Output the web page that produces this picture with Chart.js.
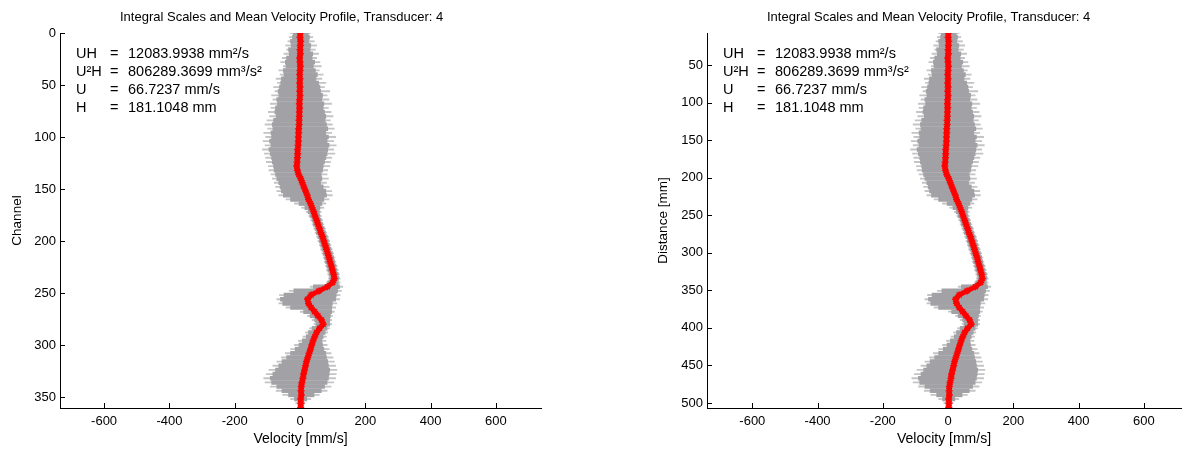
<!DOCTYPE html>
<html lang="en">
<head>
  <meta charset="UTF-8">
  <title>Integral Scales and Mean Velocity Profile</title>
  <script src="https://cdn.jsdelivr.net/npm/chart.js"></script>
  <style>
    body { margin: 0; background: #fff; width: 1182px; height: 450px; overflow: hidden; position: relative; }
    .box { position: absolute; top: 0; height: 450px; }
  </style>
</head>
<body>

  <div class="box" style="left:0;width:560px"><canvas id="chartChannel"></canvas></div>
  <div class="box" style="left:647px;width:535px"><canvas id="chartDistance"></canvas></div>

  <script>
    const plotTitle = 'Integral Scales and Mean Velocity Profile, Transducer: 4';
    const statNames = ['UH', 'U\u00b2H', 'U', 'H'];
    const statValues = ['12083.9938 mm\u00b2/s', '806289.3699 mm\u00b3/s\u00b2', '66.7237 mm/s', '181.1048 mm'];

    const velocityTicks = [-600, -400, -200, 0, 200, 400, 600];
    const channelTicks = [0, 50, 100, 150, 200, 250, 300, 350];
    const distanceTicks = [50, 100, 150, 200, 250, 300, 350, 400, 450, 500];

    // distance of channel 0 and size of one channel [mm]
    const distOffset = 7.5;
    const cellSize = 1.384;

    const channels = [
      0, 4, 8, 12, 16, 20, 24, 28, 32, 36,
      40, 44, 48, 52, 56, 60, 64, 68, 72, 76,
      80, 84, 88, 92, 96, 100, 104, 108, 112, 116,
      120, 124, 128, 132, 136, 140, 144, 148, 152, 156,
      160, 164, 168, 172, 176, 180, 184, 188, 192, 196,
      200, 204, 208, 212, 216, 220, 224, 228, 232, 236,
      240, 244, 248, 252, 256, 260, 264, 268, 272, 276,
      280, 284, 288, 292, 296, 300, 304, 308, 312, 316,
      320, 324, 328, 332, 336, 340, 344, 348, 352, 356, 360
    ];

    // mean velocity [mm/s]
    const meanVel = [
      1, 0, 2, 1, 0, 1, -1, 0, 1, 0,
      -1, 0, -1, 0, -1, 0, -1, -2, -1, -2,
      -2, -3, -3, -4, -4, -5, -5, -6, -7, -7,
      -8, -9, -10, -8, -4, 2, 7, 12, 17, 22,
      26, 32, 37, 42, 46, 51, 55, 60, 64, 69,
      73, 77, 81, 85, 89, 92, 96, 99, 103, 105,
      100, 84, 58, 34, 23, 26, 34, 45, 55, 66,
      71, 60, 51, 45, 40, 36, 32, 28, 24, 20,
      17, 14, 11, 9, 6, 4, 3, 4, 2, 3, 2
    ];

    // spread of the samples (dense part)
    const darkLo = [
      -22, -24, -30, -28, -36, -34, -42, -46, -44, -52,
      -50, -58, -60, -64, -68, -66, -72, -70, -76, -78,
      -74, -82, -86, -84, -90, -88, -94, -90, -96, -92,
      -88, -86, -82, -80, -76, -72, -66, -62, -58, -52,
      -30, -4, 14, 24, 30, 36, 40, 45, 49, 54,
      58, 62, 66, 70, 74, 77, 81, 84, 88, 90,
      84, 40, -20, -50, -61, -54, -30, 10, 30, 44,
      48, 36, 25, 18, 6, -4, -16, -30, -42, -56,
      -66, -76, -84, -92, -88, -72, -56, -36, -18, -8, -5
    ];
    const darkHi = [
      26, 30, 28, 34, 32, 40, 38, 46, 42, 48,
      54, 50, 58, 62, 64, 70, 68, 74, 72, 76,
      80, 78, 82, 86, 80, 88, 84, 90, 86, 84,
      80, 76, 72, 70, 66, 68, 64, 72, 80, 82,
      74, 68, 62, 60, 62, 66, 70, 75, 79, 84,
      88, 92, 96, 100, 104, 107, 111, 114, 118, 120,
      118, 122, 116, 112, 110, 100, 98, 98, 94, 92,
      92, 84, 78, 72, 68, 70, 74, 80, 82, 86,
      88, 92, 90, 88, 84, 76, 66, 44, 22, 10, 6
    ];

    // spread of the samples (outliers)
    const lightLo = [
      -30, -34, -38, -45, -42, -50, -55, -60, -52, -66,
      -62, -74, -70, -82, -78, -88, -84, -92, -90, -98,
      -94, -102, -108, -100, -112, -106, -114, -108, -116, -110,
      -106, -104, -98, -96, -90, -86, -80, -76, -72, -66,
      -44, -18, 4, 18, 26, 32, 36, 41, 45, 50,
      54, 58, 62, 66, 70, 73, 77, 80, 84, 86,
      80, 30, -34, -64, -72, -66, -44, 0, 22, 36,
      42, 28, 16, 8, -6, -18, -30, -46, -58, -72,
      -84, -96, -104, -112, -108, -92, -74, -54, -30, -14, -8
    ];
    const lightHi = [
      34, 40, 45, 52, 48, 58, 52, 62, 66, 60,
      72, 68, 80, 76, 92, 84, 90, 98, 88, 96,
      102, 94, 100, 106, 98, 110, 104, 112, 104, 108,
      98, 94, 92, 86, 84, 88, 82, 90, 98, 100,
      90, 80, 74, 66, 66, 70, 74, 79, 83, 88,
      92, 96, 100, 104, 108, 111, 115, 118, 122, 124,
      124, 132, 128, 124, 122, 114, 110, 106, 100, 98,
      98, 92, 86, 82, 80, 84, 90, 96, 102, 106,
      110, 114, 112, 110, 104, 96, 84, 60, 34, 16, 9
    ];

    const fontFamily = '"Liberation Sans", Arial, Helvetica, sans-serif';

    // MATLAB style tick marks pointing into the plot
    const inwardTicks = {
      id: 'inwardTicks',
      beforeDatasetsDraw(chart) {
        const { ctx, chartArea: a, scales: { x, y } } = chart;
        ctx.save();
        ctx.strokeStyle = '#000';
        ctx.lineWidth = 1;
        ctx.beginPath();
        x.ticks.forEach(t => {
          const px = Math.round(x.getPixelForValue(t.value)) + 0.5;
          ctx.moveTo(px, a.bottom);
          ctx.lineTo(px, a.bottom - 5);
        });
        y.ticks.forEach(t => {
          const py = Math.round(y.getPixelForValue(t.value)) + 0.5;
          ctx.moveTo(a.left, py);
          ctx.lineTo(a.left + 5, py);
        });
        ctx.stroke();
        ctx.restore();
      }
    };

    // title and the integral scales text box
    const labelText = {
      id: 'labelText',
      afterDraw(chart) {
        const { ctx, chartArea: a } = chart;
        ctx.save();
        ctx.fillStyle = '#000';
        ctx.textBaseline = 'middle';
        ctx.textAlign = 'left';
        ctx.font = '13px ' + fontFamily;
        ctx.fillText(plotTitle, a.left + 60, 17);
        ctx.font = '14.5px ' + fontFamily;
        statNames.forEach((name, i) => {
          const yy = 54 + i * 18;
          ctx.fillText(name, a.left + 16, yy);
          ctx.fillText('=', a.left + 50, yy);
          ctx.fillText(statValues[i], a.left + 68, yy);
        });
        ctx.restore();
      }
    };

    function makeChart(id, toY, yTicks, yMin, yMax, xMin, xMax, yLabel, padRight, yTitlePad) {
      const lightData = channels.map((c, i) => ({ y: toY(c), x: [lightLo[i], lightHi[i]] }));
      const darkData = channels.map((c, i) => ({ y: toY(c), x: [darkLo[i], darkHi[i]] }));
      const meanData = channels.map((c, i) => ({ y: toY(c), x: meanVel[i] }));

      new Chart(document.getElementById(id), {
        type: 'bar',
        data: {
          datasets: [
            {
              type: 'line',
              data: meanData,
              borderColor: '#ff0000',
              borderWidth: 5,
              pointStyle: 'star',
              pointRadius: 3.5,
              pointBorderWidth: 1.5,
              pointBorderColor: '#ff0000',
              pointBackgroundColor: '#ff0000',
              tension: 0,
              order: 0
            },
            {
              data: darkData,
              backgroundColor: '#a2a2a6',
              barPercentage: 1.1,
              categoryPercentage: 1,
              grouped: false,
              order: 1
            },
            {
              data: lightData,
              backgroundColor: '#c4c4c6',
              barPercentage: 0.45,
              categoryPercentage: 1,
              grouped: false,
              order: 2
            }
          ]
        },
        options: {
          indexAxis: 'y',
          responsive: true,
          maintainAspectRatio: false,
          animation: false,
          layout: { autoPadding: false, padding: { top: 33, right: padRight, bottom: 0, left: 0 } },
          plugins: {
            legend: { display: false },
            tooltip: { enabled: false }
          },
          scales: {
            x: {
              type: 'linear',
              min: xMin,
              max: xMax,
              grid: { display: false, drawTicks: false },
              border: { display: true, color: '#000', width: 1 },
              afterBuildTicks: s => { s.ticks = velocityTicks.map(v => ({ value: v })); },
              afterFit: s => { s.height = 42; s.paddingLeft = 0; s.paddingRight = 0; },
              ticks: { color: '#000', padding: 6, maxRotation: 0, font: { family: fontFamily, size: 13 } },
              title: {
                display: true, text: 'Velocity [mm/s]', color: '#000',
                padding: { top: 0, bottom: 2 }, font: { family: fontFamily, size: 14 }
              }
            },
            y: {
              type: 'linear',
              reverse: true,
              offset: false,
              min: yMin,
              max: yMax,
              grid: { display: false, drawTicks: false },
              border: { display: true, color: '#000', width: 1 },
              afterBuildTicks: s => { s.ticks = yTicks.map(v => ({ value: v })); },
              afterFit: s => { s.width = 60; s.paddingTop = 0; s.paddingBottom = 0; },
              ticks: { color: '#000', padding: 4, font: { family: fontFamily, size: 13 } },
              title: {
                display: true, text: yLabel, color: '#000',
                padding: { top: yTitlePad, bottom: 0 }, font: { family: fontFamily, size: 13.5 }
              }
            }
          }
        },
        plugins: [inwardTicks, labelText]
      });
    }

    makeChart('chartChannel', c => c, channelTicks, 0, 360.6, -735, 738, 'Channel', 19, 9);
    makeChart('chartDistance', c => distOffset + c * cellSize, distanceTicks, 7.5, 506.6, -739, 714, 'Distance [mm]', 1, 8);
  </script>
</body>
</html>
